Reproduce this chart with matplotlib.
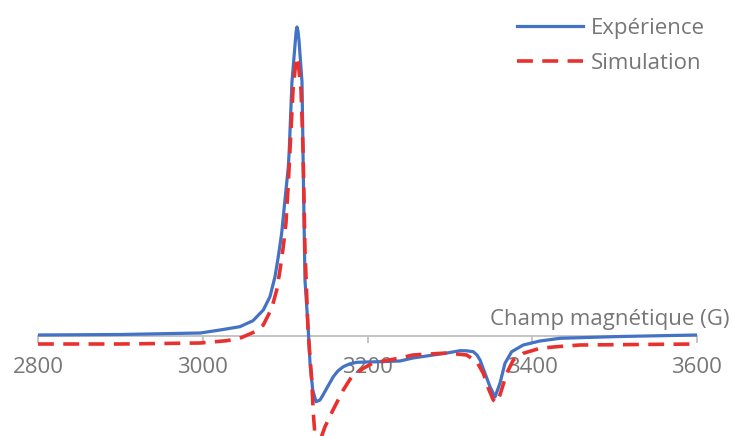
import matplotlib.pyplot as plt
from matplotlib.lines import Line2D

# champ magnetique (G) et signal RPE (unites arbitraires)
champ_exp = [2800, 2900, 2997, 3021, 3045, 3061, 3073.5, 3081.6, 3087.7, 3091.7, 3095.8,
             3099.8, 3103.9, 3105, 3108.3, 3112, 3113.3, 3114.4, 3115.6, 3116.8, 3120.5,
             3122.3, 3124.1, 3128.1, 3130.2, 3133.5, 3137.5, 3142.3, 3146, 3150.5, 3158.5,
             3164, 3170.6, 3178, 3186.9, 3200, 3215.2, 3239.5, 3255.2, 3296.5, 3312.3,
             3320, 3328.4, 3332.9, 3336.6, 3342.6, 3348.7, 3354.8, 3360.8, 3366.9, 3375,
             3389.1, 3409.4, 3433.7, 3506.5, 3600]
signal_exp = [1, 1.5, 3, 6, 9.3, 15.3, 26, 39.3, 59.3, 79.3, 102.7,
              136, 169.3, 186, 254, 291, 304, 309, 305, 296, 254,
              150, 56, 6, -27, -54, -65.7, -64, -59, -52.3, -40.7,
              -35, -30.7, -28, -26.3, -26, -25.7, -25, -22, -17, -14.7,
              -14.8, -15.7, -19, -24, -37.3, -50.7, -61, -47.3, -27.3, -15.7,
              -9, -5, -2.3, -0.5, 1]

champ_sim = [2800, 2900, 2997, 3029, 3045, 3063.4, 3073.5, 3083.7, 3089.8, 3093.8, 3097.8,
             3101, 3103.9, 3105.9, 3109.6, 3113, 3114.4, 3115.8, 3119.3, 3121.7, 3124.1,
             3127.8, 3132.3, 3134.2, 3136.3, 3140.3, 3144.4, 3148.4, 3158.1, 3170.6,
             3180.8, 3194.9, 3206.7, 3239.5, 3255.2, 3296.5, 3320.4, 3332.6, 3340.6,
             3346.7, 3352.7, 3356.8, 3360.8, 3369, 3377, 3389.1, 3409.4, 3429.7, 3458,
             3600]
signal_sim = [-8, -8, -7, -4.7, -2.3, 4.3, 11, 27.7, 46, 66, 89.3,
              113, 153, 186, 246, 274, 279, 274, 246, 188, 86,
              6, -44, -77, -100, -114, -100, -90.7, -74, -54,
              -40.7, -32.3, -27, -22, -19, -17, -19, -25.7, -37.3,
              -52.3, -64, -66.7, -59, -37.3, -24, -17.3, -12.3, -10.7, -9,
              -8]

xticks = [2800, 3000, 3200, 3400, 3600]

grey = '#767676'
blue = '#4472C4'
red = '#E8312F'
font = 'Open Sans'
fs = 16

fig = plt.figure(figsize=(7.32, 4.36), dpi=100)
ax = fig.add_axes([38 / 732, 0, 659 / 732, 431 / 436])

ax.plot(champ_exp, signal_exp, color=blue, lw=2.3, label='Expérience', zorder=3,
        solid_joinstyle='round', solid_capstyle='round')
ax.plot(champ_sim, signal_sim, color=red, lw=2.6, label='Simulation', zorder=4,
        dashes=(4.4, 2.6), dash_joinstyle='round')

ax.set_xlim(2800, 3600)
ax.set_ylim(-100, 331)

for s in ['top', 'right', 'left']:
    ax.spines[s].set_visible(False)
ax.spines['bottom'].set_position(('data', 0))
ax.spines['bottom'].set_color('#bfbfbf')
ax.spines['bottom'].set_linewidth(1.3)
ax.spines['bottom'].set_zorder(1)
ax.set_yticks([])
ax.set_xticks(xticks)
ax.set_xticklabels([str(t) for t in xticks], fontsize=fs, color=grey, family=font)
ax.tick_params(axis='x', direction='out', length=5, width=1.3, color='#bfbfbf', pad=10)

fig.text(729 / 732, (436 - 319) / 436, 'Champ magnétique (G)', ha='right', va='center',
         fontsize=fs, color=grey, family=font)

handles = [Line2D([], [], color=blue, lw=2.3),
           Line2D([], [], color=red, lw=2.6, dashes=(4.4, 2.6))]
leg = ax.legend(handles, ['Expérience', 'Simulation'], loc='upper right',
                bbox_to_anchor=(723 / 732, 436 / 436), bbox_transform=fig.transFigure,
                frameon=False, handlelength=3.0, handletextpad=0.35, labelspacing=0.62,
                borderpad=0.3, prop={'family': font, 'size': fs})
for t in leg.get_texts():
    t.set_color(grey)

fig.savefig('out.png', dpi=100)
